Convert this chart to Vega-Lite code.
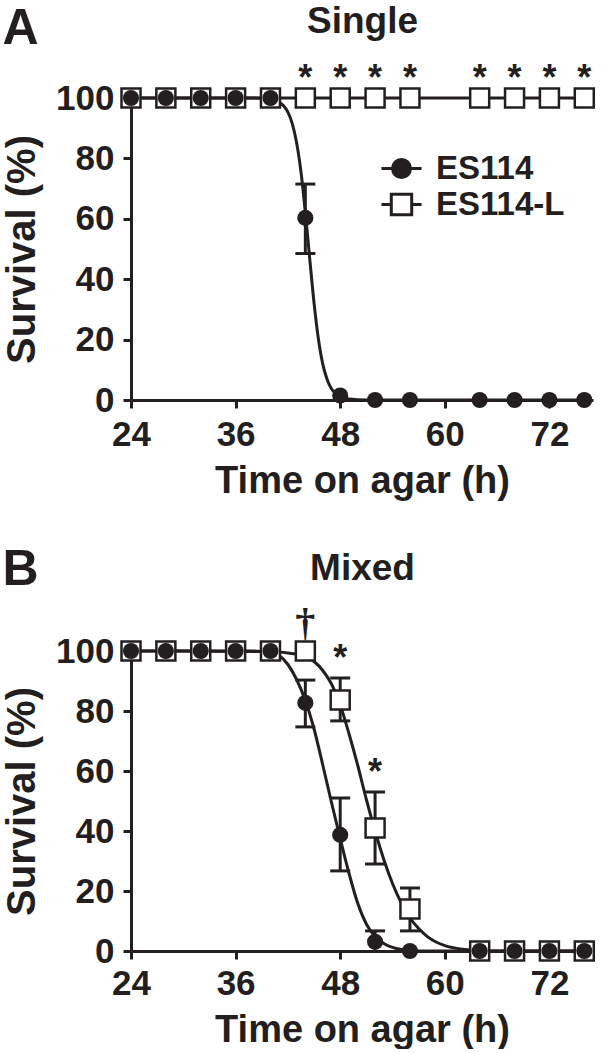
{
  "$schema": "https://vega.github.io/schema/vega-lite/v6.json",
  "padding": {"left": 2, "top": 2, "right": 0, "bottom": 0},
  "background": "white",
  "config": {
    "view": {"stroke": null},
    "font": "Liberation Sans",
    "axis": {
      "domainColor": "#231f20", "domainWidth": 3, "tickColor": "#231f20", "tickWidth": 3, "tickSize": 8,
      "labelFont": "Liberation Sans", "labelFontSize": 35, "labelFontWeight": "bold", "labelColor": "#231f20",
      "titleFont": "Liberation Sans", "titleFontSize": 38, "titleFontWeight": "bold", "titleColor": "#231f20",
      "grid": false, "labelFlush": false, "labelOverlap": false
    },
    "title": {"font": "Liberation Sans", "fontSize": 50, "fontWeight": "bold", "color": "#231f20"},
    "legend": {
      "labelFont": "Liberation Sans", "labelFontSize": 33, "labelFontWeight": "bold", "labelColor": "#231f20",
      "symbolStrokeWidth": 3, "symbolSize": 1156, "labelOffset": 16,
      "rowPadding": -2, "padding": 0, "symbolOpacity": 1
    }
  },
  "datasets": {
    "pointsA": [
      {"series": "ES114", "t": 24, "y": 100}, {"series": "ES114", "t": 28, "y": 100}, {"series": "ES114", "t": 32, "y": 100},
      {"series": "ES114", "t": 36, "y": 100}, {"series": "ES114", "t": 40, "y": 100},
      {"series": "ES114", "t": 44, "y": 60.3, "lo": 48.5, "hi": 71.5},
      {"series": "ES114", "t": 48, "y": 1.5}, {"series": "ES114", "t": 52, "y": 0}, {"series": "ES114", "t": 56, "y": 0},
      {"series": "ES114", "t": 64, "y": 0}, {"series": "ES114", "t": 68, "y": 0}, {"series": "ES114", "t": 72, "y": 0}, {"series": "ES114", "t": 76, "y": 0},
      {"series": "ES114-L", "t": 24, "y": 100}, {"series": "ES114-L", "t": 28, "y": 100}, {"series": "ES114-L", "t": 32, "y": 100},
      {"series": "ES114-L", "t": 36, "y": 100}, {"series": "ES114-L", "t": 40, "y": 100}, {"series": "ES114-L", "t": 44, "y": 100},
      {"series": "ES114-L", "t": 48, "y": 100}, {"series": "ES114-L", "t": 52, "y": 100}, {"series": "ES114-L", "t": 56, "y": 100},
      {"series": "ES114-L", "t": 64, "y": 100}, {"series": "ES114-L", "t": 68, "y": 100}, {"series": "ES114-L", "t": 72, "y": 100}, {"series": "ES114-L", "t": 76, "y": 100}
    ],
    "curvesA": [
      {"series": "ES114", "t": 24, "y": 100}, {"series": "ES114", "t": 38, "y": 100}, {"series": "ES114", "t": 40, "y": 99.6},
      {"series": "ES114", "t": 41, "y": 98.6}, {"series": "ES114", "t": 41.5, "y": 97.4}, {"series": "ES114", "t": 42, "y": 95.3},
      {"series": "ES114", "t": 42.5, "y": 91.5}, {"series": "ES114", "t": 43, "y": 85.2}, {"series": "ES114", "t": 43.5, "y": 75.5},
      {"series": "ES114", "t": 44, "y": 62.2}, {"series": "ES114", "t": 44.5, "y": 46.9}, {"series": "ES114", "t": 45, "y": 32.1},
      {"series": "ES114", "t": 45.5, "y": 20.2}, {"series": "ES114", "t": 46, "y": 11.9}, {"series": "ES114", "t": 46.5, "y": 6.8},
      {"series": "ES114", "t": 47, "y": 3.7}, {"series": "ES114", "t": 47.5, "y": 2.0}, {"series": "ES114", "t": 48, "y": 1.1},
      {"series": "ES114", "t": 49, "y": 0.3}, {"series": "ES114", "t": 50, "y": 0.1}, {"series": "ES114", "t": 52, "y": 0},
      {"series": "ES114", "t": 76, "y": 0},
      {"series": "ES114-L", "t": 24, "y": 100}, {"series": "ES114-L", "t": 76, "y": 100}
    ],
    "notesA": [
      {"t": 44, "y": 100, "label": "*"}, {"t": 48, "y": 100, "label": "*"}, {"t": 52, "y": 100, "label": "*"}, {"t": 56, "y": 100, "label": "*"},
      {"t": 64, "y": 100, "label": "*"}, {"t": 68, "y": 100, "label": "*"}, {"t": 72, "y": 100, "label": "*"}, {"t": 76, "y": 100, "label": "*"}
    ],
    "pointsB": [
      {"series": "ES114", "t": 24, "y": 100}, {"series": "ES114", "t": 28, "y": 100}, {"series": "ES114", "t": 32, "y": 100},
      {"series": "ES114", "t": 36, "y": 100}, {"series": "ES114", "t": 40, "y": 100},
      {"series": "ES114", "t": 44, "y": 82.7, "lo": 74.7, "hi": 90.3},
      {"series": "ES114", "t": 48, "y": 38.7, "lo": 26.7, "hi": 51},
      {"series": "ES114", "t": 52, "y": 3.1, "lo": 0, "hi": 6.7},
      {"series": "ES114", "t": 56, "y": 0},
      {"series": "ES114", "t": 64, "y": 0}, {"series": "ES114", "t": 68, "y": 0}, {"series": "ES114", "t": 72, "y": 0}, {"series": "ES114", "t": 76, "y": 0},
      {"series": "ES114-L", "t": 24, "y": 100}, {"series": "ES114-L", "t": 28, "y": 100}, {"series": "ES114-L", "t": 32, "y": 100},
      {"series": "ES114-L", "t": 36, "y": 100}, {"series": "ES114-L", "t": 40, "y": 100}, {"series": "ES114-L", "t": 44, "y": 100},
      {"series": "ES114-L", "t": 48, "y": 83.7, "lo": 76.7, "hi": 91},
      {"series": "ES114-L", "t": 52, "y": 41, "lo": 29, "hi": 53},
      {"series": "ES114-L", "t": 56, "y": 14, "lo": 6.7, "hi": 21},
      {"series": "ES114-L", "t": 64, "y": 0}, {"series": "ES114-L", "t": 68, "y": 0}, {"series": "ES114-L", "t": 72, "y": 0}, {"series": "ES114-L", "t": 76, "y": 0}
    ],
    "curvesB": [
      {"series": "ES114", "t": 24, "y": 100}, {"series": "ES114", "t": 38, "y": 100}, {"series": "ES114", "t": 40, "y": 99.5},
      {"series": "ES114", "t": 41, "y": 98.5}, {"series": "ES114", "t": 42, "y": 95.5}, {"series": "ES114", "t": 43, "y": 90.5},
      {"series": "ES114", "t": 44, "y": 83.5}, {"series": "ES114", "t": 45, "y": 74}, {"series": "ES114", "t": 46, "y": 62},
      {"series": "ES114", "t": 47, "y": 49.5}, {"series": "ES114", "t": 48, "y": 37.5}, {"series": "ES114", "t": 49, "y": 26},
      {"series": "ES114", "t": 50, "y": 16}, {"series": "ES114", "t": 51, "y": 9}, {"series": "ES114", "t": 52, "y": 4.8},
      {"series": "ES114", "t": 53, "y": 2.5}, {"series": "ES114", "t": 54, "y": 1.2}, {"series": "ES114", "t": 55, "y": 0.5},
      {"series": "ES114", "t": 56, "y": 0.2}, {"series": "ES114", "t": 58, "y": 0}, {"series": "ES114", "t": 76, "y": 0},
      {"series": "ES114-L", "t": 24, "y": 100}, {"series": "ES114-L", "t": 40, "y": 99.8}, {"series": "ES114-L", "t": 42, "y": 99.3},
      {"series": "ES114-L", "t": 44, "y": 98.2}, {"series": "ES114-L", "t": 45, "y": 96.5}, {"series": "ES114-L", "t": 46, "y": 93.5},
      {"series": "ES114-L", "t": 47, "y": 89}, {"series": "ES114-L", "t": 48, "y": 82}, {"series": "ES114-L", "t": 49, "y": 72.5},
      {"series": "ES114-L", "t": 50, "y": 62}, {"series": "ES114-L", "t": 51, "y": 50.5}, {"series": "ES114-L", "t": 52, "y": 40},
      {"series": "ES114-L", "t": 53, "y": 30.5}, {"series": "ES114-L", "t": 54, "y": 22.5}, {"series": "ES114-L", "t": 55, "y": 16},
      {"series": "ES114-L", "t": 56, "y": 11}, {"series": "ES114-L", "t": 57, "y": 7.5}, {"series": "ES114-L", "t": 58, "y": 4.8},
      {"series": "ES114-L", "t": 59, "y": 3}, {"series": "ES114-L", "t": 60, "y": 1.8}, {"series": "ES114-L", "t": 62, "y": 0.6},
      {"series": "ES114-L", "t": 64, "y": 0.2}, {"series": "ES114-L", "t": 66, "y": 0}, {"series": "ES114-L", "t": 76, "y": 0}
    ],
    "notesB": [
      {"t": 48, "y": 91, "label": "*"}, {"t": 52, "y": 53, "label": "*"}
    ],
    "daggerB": [
      {"t": 44, "y": 100, "label": "†"}
    ]
  },
  "resolve": {"scale": {"shape": "independent", "fill": "independent", "stroke": "independent"}, "legend": {"shape": "independent", "fill": "independent", "stroke": "independent"}},
  "spacing": 45,
  "vconcat": [
    {
      "title": {"text": "A", "anchor": "start", "frame": "bounds", "offset": -52},
      "width": 462, "height": 302,
      "resolve": {"axis": {"x": "independent"}},
      "layer": [
        {
          "data": {"name": "curvesA"},
          "mark": {"type": "line", "stroke": "#231f20", "strokeWidth": 3, "interpolate": "monotone"},
          "encoding": {
            "x": {"field": "t", "type": "quantitative", "scale": {"domain": [24, 77], "nice": false, "zero": false},
                  "axis": {"values": [24, 36, 48, 60, 72], "title": "Time on agar (h)", "labelPadding": 9, "titlePadding": 10}},
            "y": {"field": "y", "type": "quantitative", "scale": {"domain": [0, 100], "nice": false},
                  "axis": {"values": [0, 20, 40, 60, 80, 100], "title": "Survival (%)", "titleFontSize": 40, "labelPadding": 9, "titlePadding": 13}},
            "detail": {"field": "series"}
          }
        },
        {
          "data": {"name": "pointsA"},
          "transform": [{"filter": "isValid(datum.lo)"}],
          "mark": {"type": "rule", "stroke": "#231f20", "strokeWidth": 3},
          "encoding": {
            "x": {"field": "t", "type": "quantitative", "axis": null},
            "y": {"field": "lo", "type": "quantitative"},
            "y2": {"field": "hi"}
          }
        },
        {
          "data": {"name": "pointsA"},
          "transform": [{"filter": "isValid(datum.lo)"}],
          "mark": {"type": "tick", "orient": "horizontal", "color": "#231f20", "size": 20, "thickness": 3, "opacity": 1},
          "encoding": {
            "x": {"field": "t", "type": "quantitative", "axis": null},
            "y": {"field": "lo", "type": "quantitative"}
          }
        },
        {
          "data": {"name": "pointsA"},
          "transform": [{"filter": "isValid(datum.hi)"}],
          "mark": {"type": "tick", "orient": "horizontal", "color": "#231f20", "size": 20, "thickness": 3, "opacity": 1},
          "encoding": {
            "x": {"field": "t", "type": "quantitative", "axis": null},
            "y": {"field": "hi", "type": "quantitative"}
          }
        },
        {
          "data": {"name": "pointsA"},
          "transform": [{"filter": "datum.series === 'ES114-L'"}],
          "mark": {"type": "point", "shape": "square", "size": 361, "filled": false, "fill": "white", "stroke": "#231f20", "strokeWidth": 2.5, "opacity": 1, "clip": false},
          "encoding": {
            "x": {"field": "t", "type": "quantitative", "axis": null},
            "y": {"field": "y", "type": "quantitative"}
          }
        },
        {
          "data": {"name": "pointsA"},
          "transform": [{"filter": "datum.series === 'ES114'"}],
          "mark": {"type": "point", "shape": "circle", "size": 260, "filled": true, "fill": "#231f20", "stroke": null, "opacity": 1, "clip": false},
          "encoding": {
            "x": {"field": "t", "type": "quantitative", "axis": null},
            "y": {"field": "y", "type": "quantitative"}
          }
        },
        {
          "data": {"name": "notesA"},
          "mark": {"type": "text", "fontSize": 36, "fontWeight": "bold", "color": "#231f20", "baseline": "bottom", "align": "center", "clip": false},
          "encoding": {
            "x": {"field": "t", "type": "quantitative",
                  "axis": {"orient": "top", "title": "Single", "domain": false, "ticks": false, "labels": false, "titleFontSize": 37, "titlePadding": 58}},
            "y": {"field": "y", "type": "quantitative"},
            "text": {"field": "label"}
          }
        },
        {
          "data": {"name": "pointsA"},
          "transform": [{"filter": "datum.t < 0"}],
          "mark": {"type": "point", "strokeWidth": 3, "opacity": 1},
          "encoding": {
            "x": {"field": "t", "type": "quantitative", "axis": null},
            "y": {"field": "y", "type": "quantitative"},
            "shape": {"field": "series", "type": "nominal",
                      "scale": {"domain": ["ES114", "ES114-L"], "range": [
                        "M-1.18,0H-0.53M0.53,0H1.18M-0.53,0A0.53,0.53 0 1,0 0.53,0A0.53,0.53 0 1,0 -0.53,0Z",
                        "M-1.18,0H-0.6M0.6,0H1.18M-0.6,-0.6H0.6V0.6H-0.6Z"]},
                      "legend": {"title": null, "orient": "none", "legendX": 252, "legendY": 52}},
            "fill": {"field": "series", "type": "nominal",
                     "scale": {"domain": ["ES114", "ES114-L"], "range": ["#231f20", "white"]},
                     "legend": {"title": null, "orient": "none", "legendX": 252, "legendY": 52}},
            "stroke": {"field": "series", "type": "nominal",
                     "scale": {"domain": ["ES114", "ES114-L"], "range": ["#231f20", "#231f20"]},
                     "legend": {"title": null, "orient": "none", "legendX": 252, "legendY": 52}}
          }
        }
      ]
    },
    {
      "title": {"text": "B", "anchor": "start", "frame": "bounds", "offset": -46},
      "width": 462, "height": 300,
      "resolve": {"axis": {"x": "independent"}},
      "layer": [
        {
          "data": {"name": "curvesB"},
          "mark": {"type": "line", "stroke": "#231f20", "strokeWidth": 3, "interpolate": "monotone"},
          "encoding": {
            "x": {"field": "t", "type": "quantitative", "scale": {"domain": [24, 77], "nice": false, "zero": false},
                  "axis": {"values": [24, 36, 48, 60, 72], "title": "Time on agar (h)", "labelPadding": 7, "titlePadding": 10}},
            "y": {"field": "y", "type": "quantitative", "scale": {"domain": [0, 100], "nice": false},
                  "axis": {"values": [0, 20, 40, 60, 80, 100], "title": "Survival (%)", "titleFontSize": 40, "labelPadding": 9, "titlePadding": 13}},
            "detail": {"field": "series"}
          }
        },
        {
          "data": {"name": "pointsB"},
          "transform": [{"filter": "isValid(datum.lo)"}],
          "mark": {"type": "rule", "stroke": "#231f20", "strokeWidth": 3},
          "encoding": {
            "x": {"field": "t", "type": "quantitative", "axis": null},
            "y": {"field": "lo", "type": "quantitative"},
            "y2": {"field": "hi"}
          }
        },
        {
          "data": {"name": "pointsB"},
          "transform": [{"filter": "isValid(datum.lo) && datum.lo > 0"}],
          "mark": {"type": "tick", "orient": "horizontal", "color": "#231f20", "size": 20, "thickness": 3, "opacity": 1},
          "encoding": {
            "x": {"field": "t", "type": "quantitative", "axis": null},
            "y": {"field": "lo", "type": "quantitative"}
          }
        },
        {
          "data": {"name": "pointsB"},
          "transform": [{"filter": "isValid(datum.hi)"}],
          "mark": {"type": "tick", "orient": "horizontal", "color": "#231f20", "size": 20, "thickness": 3, "opacity": 1},
          "encoding": {
            "x": {"field": "t", "type": "quantitative", "axis": null},
            "y": {"field": "hi", "type": "quantitative"}
          }
        },
        {
          "data": {"name": "pointsB"},
          "transform": [{"filter": "datum.series === 'ES114-L'"}],
          "mark": {"type": "point", "shape": "square", "size": 361, "filled": false, "fill": "white", "stroke": "#231f20", "strokeWidth": 2.5, "opacity": 1, "clip": false},
          "encoding": {
            "x": {"field": "t", "type": "quantitative", "axis": null},
            "y": {"field": "y", "type": "quantitative"}
          }
        },
        {
          "data": {"name": "pointsB"},
          "transform": [{"filter": "datum.series === 'ES114'"}],
          "mark": {"type": "point", "shape": "circle", "size": 260, "filled": true, "fill": "#231f20", "stroke": null, "opacity": 1, "clip": false},
          "encoding": {
            "x": {"field": "t", "type": "quantitative", "axis": null},
            "y": {"field": "y", "type": "quantitative"}
          }
        },
        {
          "data": {"name": "notesB"},
          "mark": {"type": "text", "fontSize": 36, "fontWeight": "bold", "color": "#231f20", "baseline": "bottom", "align": "center", "clip": false},
          "encoding": {
            "x": {"field": "t", "type": "quantitative",
                  "axis": {"orient": "top", "title": "Mixed", "domain": false, "ticks": false, "labels": false, "titleFontSize": 37, "titlePadding": 64}},
            "y": {"field": "y", "type": "quantitative"},
            "text": {"field": "label"}
          }
        },
        {
          "data": {"name": "daggerB"},
          "mark": {"type": "text", "font": "Liberation Serif", "fontSize": 40, "fontWeight": "bold", "color": "#231f20", "baseline": "bottom", "align": "center", "dy": -7, "clip": false},
          "encoding": {
            "x": {"field": "t", "type": "quantitative", "axis": null},
            "y": {"field": "y", "type": "quantitative"},
            "text": {"field": "label"}
          }
        }
      ]
    }
  ]
}
